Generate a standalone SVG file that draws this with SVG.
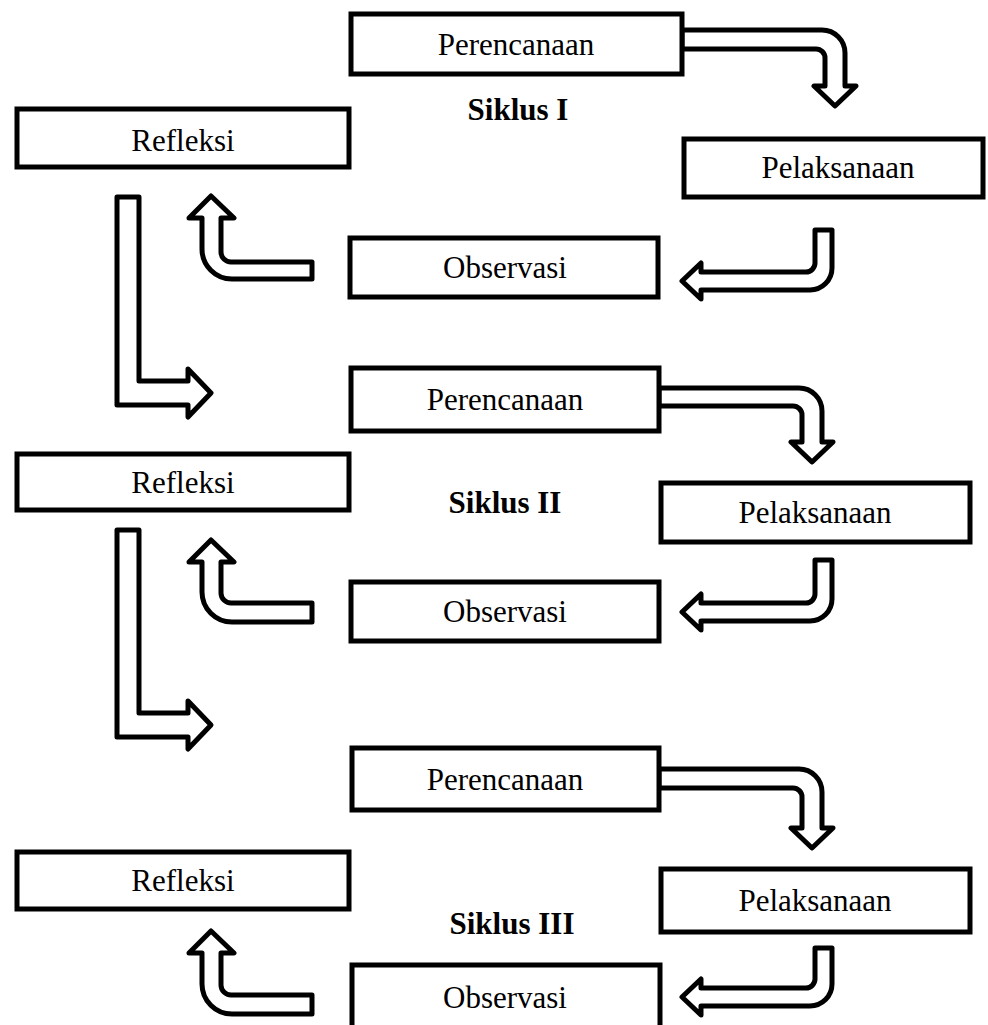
<svg xmlns="http://www.w3.org/2000/svg" width="988" height="1025" viewBox="0 0 988 1025">
<style>
.box{fill:#fff;stroke:#000;stroke-width:5}
.arr{fill:#fff;stroke:#000;stroke-width:5;stroke-linejoin:round}
.t{font-family:"Liberation Serif","Times New Roman",serif;font-size:31px;fill:#000;text-anchor:middle}
.b{font-weight:bold}
</style>
<rect width="988" height="1025" fill="#fff"/>
<g id="connectors">
<path class="arr" d="M682,30 H822 A23,23 0 0 1 845,53 V86 H856 L835,106 L814,86 H825 V58 A9,9 0 0 0 816,49 H682 Z"/>
<path class="arr" d="M815,230 H832 V268 A22,22 0 0 1 810,290 H701 V299 L682,281 L701,263 V272 H806 A9,9 0 0 0 815,263 Z"/>
<path class="arr" d="M312,262 V279 H232 A30,30 0 0 1 202,249 V218 H189 L211,196 L234,218 H221 V252 A10,10 0 0 0 231,262 Z"/>
<path class="arr" d="M117,197 H139 V381 H188 V369 L211,393 L188,417 V405 H117 Z"/>
<path class="arr" d="M659,388 H799 A23,23 0 0 1 822,411 V442 H833 L812,462 L791,442 H802 V415 A9,9 0 0 0 793,406 H659 Z"/>
<path class="arr" d="M815,560 H832 V599 A22,22 0 0 1 810,621 H701 V630 L682,612 L701,594 V603 H806 A9,9 0 0 0 815,594 Z"/>
<path class="arr" d="M312,603 V622 H232 A30,30 0 0 1 202,592 V562 H189 L211,540 L234,562 H221 V593 A10,10 0 0 0 231,603 Z"/>
<path class="arr" d="M117,530 H139 V713 H188 V701 L211,725 L188,749 V737 H117 Z"/>
<path class="arr" d="M659,769 H799 A23,23 0 0 1 822,792 V828 H833 L812,848 L791,828 H802 V797 A9,9 0 0 0 793,788 H659 Z"/>
<path class="arr" d="M815,948 H832 V984 A22,22 0 0 1 810,1006 H701 V1015 L682,997 L701,979 V988 H806 A9,9 0 0 0 815,979 Z"/>
<path class="arr" d="M312,995 V1014 H232 A30,30 0 0 1 202,984 V953 H189 L211,931 L234,953 H221 V985 A10,10 0 0 0 231,995 Z"/>
</g>
<g id="perencanaan1"><rect class="box" x="351" y="14" width="331" height="60"/><text class="t" x="516" y="55">Perencanaan</text></g>
<g id="siklus1"><text class="t b" x="518" y="120">Siklus I</text></g>
<g id="refleksi1"><rect class="box" x="17" y="109" width="332" height="58"/><text class="t" x="183" y="151">Refleksi</text></g>
<g id="pelaksanaan1"><rect class="box" x="684" y="139" width="299" height="58"/><text class="t" x="838" y="178">Pelaksanaan</text></g>
<g id="observasi1"><rect class="box" x="350" y="238" width="308" height="59"/><text class="t" x="505" y="278">Observasi</text></g>
<g id="perencanaan2"><rect class="box" x="351" y="368" width="308" height="63"/><text class="t" x="505" y="410">Perencanaan</text></g>
<g id="refleksi2"><rect class="box" x="17" y="454" width="332" height="56"/><text class="t" x="183" y="493">Refleksi</text></g>
<g id="siklus2"><text class="t b" x="505" y="513">Siklus II</text></g>
<g id="pelaksanaan2"><rect class="box" x="661" y="483" width="309" height="59"/><text class="t" x="815" y="523">Pelaksanaan</text></g>
<g id="observasi2"><rect class="box" x="351" y="582" width="308" height="59"/><text class="t" x="505" y="622">Observasi</text></g>
<g id="perencanaan3"><rect class="box" x="352" y="748" width="307" height="62"/><text class="t" x="505" y="790">Perencanaan</text></g>
<g id="refleksi3"><rect class="box" x="17" y="852" width="332" height="57"/><text class="t" x="183" y="891">Refleksi</text></g>
<g id="pelaksanaan3"><rect class="box" x="661" y="869" width="309" height="63"/><text class="t" x="815" y="911">Pelaksanaan</text></g>
<g id="siklus3"><text class="t b" x="512" y="934">Siklus III</text></g>
<g id="observasi3"><rect class="box" x="352" y="965" width="308" height="80"/><text class="t" x="505" y="1008">Observasi</text></g>
</svg>
